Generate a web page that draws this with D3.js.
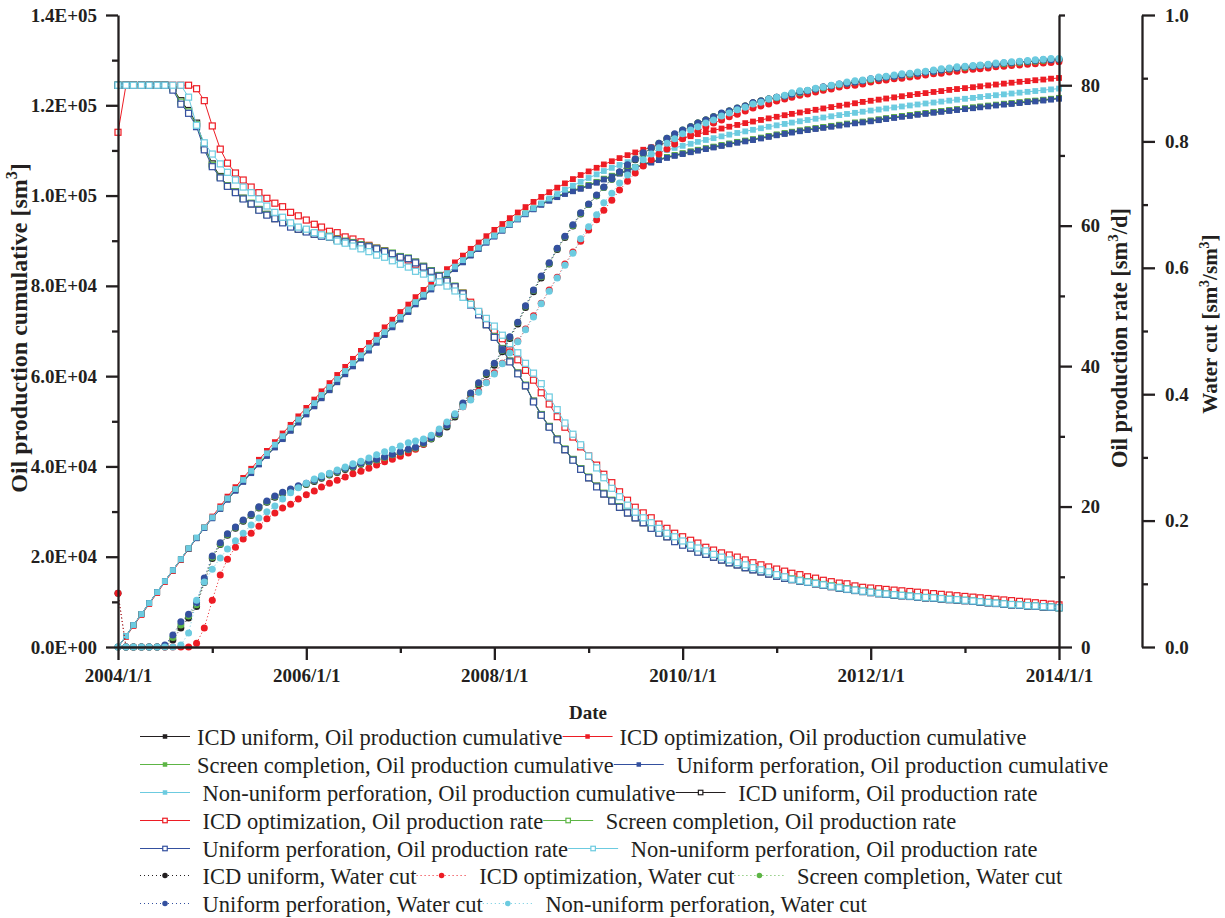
<!DOCTYPE html>
<html>
<head>
<meta charset="utf-8">
<script src="https://cdn.jsdelivr.net/npm/d3@7"></script>
<style>
  body { margin: 0; background: #fff; }
  text { font-family: "Liberation Serif", "Times New Roman", serif; }
</style>
</head>
<body>
<svg id="chart" width="1225" height="918"></svg>
<script>
// ---- data: monthly values, 2004/1/1 .. 2014/1/1 (121 points) ----
const startDate = new Date(2004, 0, 1), endDate = new Date(2014, 0, 1);

// cumulative oil, in thousand sm3
const cumIcdUniform = [0,2.43,4.86,7.30,9.73,12.16,14.59,17.02,19.45,21.83,24.15,26.43,28.60,30.69,32.73,34.73,36.70,38.65,40.57,42.46,
 44.33,46.18,48.02,49.84,51.65,53.45,55.24,57.02,58.79,60.56,62.31,64.06,65.80,67.53,69.25,70.96,72.66,74.35,76.03,77.69,
 79.33,80.89,82.33,83.83,85.33,86.83,88.27,89.67,91.02,92.32,93.62,94.82,95.97,97.06,98.06,98.96,99.76,100.46,101.06,101.61,
 102.26,102.96,103.66,104.31,104.96,105.61,106.26,106.86,107.41,107.96,108.46,108.91,109.31,109.71,110.06,110.41,110.76,111.11,111.46,111.81,
 112.11,112.41,112.76,113.11,113.46,113.76,114.06,114.36,114.61,114.86,115.11,115.36,115.61,115.86,116.11,116.31,116.56,116.81,117.06,117.31,
 117.56,117.76,118.01,118.21,118.46,118.66,118.86,119.06,119.26,119.46,119.66,119.86,120.06,120.26,120.41,120.61,120.81,120.96,121.16,121.36,121.56];
const cumIcdOpt = [0,2.23,4.66,7.09,9.53,11.96,14.39,16.82,19.25,21.69,24.12,26.54,28.90,31.16,33.31,35.41,37.46,39.48,41.47,43.44,
 45.38,47.30,49.21,51.09,52.96,54.81,56.64,58.46,60.26,62.05,63.83,65.59,67.35,69.09,70.81,72.5,74.2,75.85,77.5,79.1,
 80.7,82.2,83.7,85.2,86.7,88.2,89.6,91.0,92.4,93.7,95.0,96.25,97.45,98.6,99.7,100.75,101.75,102.7,103.65,104.55,
 105.35,106.15,106.9,107.6,108.3,108.95,109.55,110.15,110.7,111.25,111.75,112.25,112.7,113.15,113.6,114.05,114.45,114.85,115.25,115.65,
 116.05,116.4,116.75,117.1,117.45,117.8,118.1,118.4,118.7,119.0,119.3,119.6,119.9,120.15,120.45,120.75,121.0,121.25,121.5,121.75,
 122.0,122.25,122.5,122.7,122.95,123.15,123.4,123.6,123.8,124.0,124.2,124.4,124.6,124.8,125.0,125.2,125.35,125.55,125.7,125.9,126.05];
const cumScreen = [0,2.43,4.86,7.30,9.73,12.16,14.59,17.02,19.44,21.81,24.14,26.42,28.60,30.70,32.75,34.76,36.75,38.70,40.63,42.52,
 44.39,46.24,48.08,49.90,51.71,53.50,55.29,57.07,58.84,60.61,62.36,64.11,65.85,67.58,69.30,71.01,72.72,74.40,76.09,77.75,
 79.39,80.95,82.40,83.90,85.40,86.90,88.35,89.75,91.10,92.40,93.70,94.90,96.05,97.15,98.15,99.05,99.85,100.55,101.15,101.70,
 102.35,103.05,103.75,104.40,105.05,105.70,106.35,106.95,107.50,108.05,108.55,109.00,109.40,109.80,110.15,110.50,110.85,111.20,111.55,111.90,
 112.20,112.50,112.85,113.20,113.55,113.85,114.15,114.45,114.70,114.95,115.20,115.45,115.70,115.95,116.20,116.40,116.65,116.90,117.15,117.40,
 117.65,117.85,118.10,118.30,118.55,118.75,118.95,119.15,119.35,119.55,119.75,119.95,120.15,120.35,120.50,120.70,120.90,121.05,121.25,121.45,121.65];
const cumUniPerf = [0,2.43,4.86,7.30,9.73,12.16,14.59,17.02,19.43,21.78,24.09,26.35,28.50,30.58,32.61,34.60,36.57,38.51,40.43,42.32,
 44.19,46.04,47.88,49.70,51.51,53.30,55.09,56.87,58.64,60.41,62.16,63.91,65.65,67.38,69.10,70.81,72.52,74.20,75.89,77.55,
 79.19,80.75,82.2,83.7,85.2,86.7,88.15,89.55,90.9,92.2,93.5,94.7,95.85,96.95,97.95,98.85,99.65,100.35,100.95,101.5,
 102.15,102.85,103.55,104.2,104.85,105.5,106.15,106.75,107.3,107.85,108.35,108.8,109.2,109.6,109.95,110.3,110.65,111.0,111.35,111.7,
 112.0,112.3,112.65,113.0,113.35,113.65,113.95,114.25,114.5,114.75,115.0,115.25,115.5,115.75,116.0,116.2,116.45,116.7,116.95,117.2,
 117.45,117.65,117.9,118.1,118.35,118.55,118.75,118.95,119.15,119.35,119.55,119.75,119.95,120.15,120.3,120.5,120.7,120.85,121.05,121.25,121.45];
const cumNonUni = [0,2.43,4.86,7.30,9.73,12.16,14.59,17.02,19.46,21.89,24.27,26.53,28.71,30.84,32.93,34.99,37.01,39.0,40.97,42.91,
 44.82,46.70,48.56,50.40,52.22,54.03,55.82,57.60,59.38,61.14,62.89,64.62,66.35,68.06,69.75,71.44,73.11,74.77,76.41,78.04,
 79.65,81.25,82.83,84.27,85.70,87.10,88.47,89.81,91.13,92.41,93.66,94.88,96.06,97.19,98.29,99.34,100.34,101.29,102.19,103.04,
 103.9,104.7,105.44,106.14,106.79,107.41,108.0,108.56,109.09,109.6,110.09,110.56,111.02,111.47,111.9,112.32,112.72,113.12,113.5,113.87,
 114.22,114.57,114.91,115.24,115.56,115.87,116.17,116.46,116.74,117.02,117.29,117.56,117.82,118.08,118.33,118.58,118.83,119.06,119.29,119.52,
 119.74,119.96,120.18,120.40,120.61,120.82,121.03,121.24,121.44,121.64,121.84,122.04,122.23,122.42,122.61,122.80,122.98,123.16,123.34,123.52,123.7];

// oil production rate, sm3/d
const rateIcdUniform = [80,80,80,80,80,80,80,79.6,77.8,76.4,74.6,71.4,68.8,67.0,65.7,64.8,63.9,63.1,62.3,61.6,
 61.0,60.5,59.9,59.5,59.2,58.8,58.6,58.4,58.0,57.8,57.5,57.3,57.0,56.7,56.4,56.0,55.6,55.3,54.8,54.2,
 53.6,52.9,52.2,51.3,50.3,48.8,47.4,45.9,44.2,42.5,40.7,39.0,37.2,35.0,33.1,31.4,29.6,28.1,26.7,25.4,
 24.1,22.9,21.8,20.8,19.9,19.1,18.4,17.7,17.0,16.3,15.7,15.1,14.6,14.1,13.6,13.2,12.8,12.4,12.0,11.7,
 11.3,11.0,10.7,10.4,10.1,9.8,9.6,9.4,9.2,9.0,8.8,8.6,8.4,8.2,8.05,7.9,7.75,7.6,7.5,7.4,
 7.3,7.2,7.1,7.0,6.95,6.85,6.75,6.7,6.6,6.5,6.4,6.3,6.2,6.1,6.0,5.95,5.85,5.8,5.7,5.65,5.6];
const rateIcdOpt = [73.3,80,80,80,80,80,80,80,80,80,79.5,77.8,74.2,70.9,68.9,67.5,66.5,65.5,64.7,63.9,
 63.2,62.7,61.9,61.4,60.8,60.2,59.8,59.2,59.0,58.4,58.1,57.7,57.2,56.8,56.4,56.0,55.5,55.1,54.5,54.1,
 53.4,52.8,52.0,51.1,50.4,49.1,47.7,46.6,45.1,43.9,42.3,40.9,39.4,38.0,36.2,34.6,32.8,31.3,29.9,28.5,
 27.2,25.9,24.6,23.4,22.1,20.9,19.9,19.1,18.4,17.5,16.9,16.2,15.7,15.2,14.8,14.2,13.8,13.4,13.1,12.8,
 12.4,12.0,11.7,11.4,11.1,10.8,10.5,10.3,10.0,9.8,9.5,9.3,9.1,9.0,8.7,8.5,8.4,8.3,8.2,8.1,
 8.0,7.9,7.8,7.7,7.6,7.5,7.4,7.3,7.2,7.1,7.0,6.9,6.8,6.7,6.6,6.5,6.4,6.3,6.2,6.1,6.0];
const rateScreen = [80,80,80,80,80,80,80,79.5,77.6,76.2,74.4,71.1,68.6,66.9,65.7,64.8,63.9,63.2,62.3,61.6,
 61.1,60.5,59.9,59.6,59.2,58.9,58.6,58.5,58.1,57.8,57.6,57.3,57.1,56.8,56.4,56.1,55.6,55.4,54.8,54.2,
 53.6,52.9,52.2,51.4,50.4,48.8,47.4,46.0,44.2,42.5,40.7,39.0,37.3,35.0,33.1,31.4,29.6,28.2,26.7,25.4,
 24.2,22.9,21.9,20.9,20.0,19.2,18.5,17.8,17.0,16.3,15.8,15.1,14.6,14.2,13.6,13.3,12.9,12.5,12.1,11.8,
 11.4,11.1,10.8,10.5,10.2,9.9,9.7,9.5,9.3,9.1,8.9,8.7,8.5,8.3,8.1,7.95,7.8,7.65,7.55,7.45,
 7.35,7.25,7.15,7.05,7.0,6.9,6.8,6.75,6.65,6.55,6.45,6.35,6.25,6.15,6.05,6.0,5.9,5.85,5.75,5.7,5.6];
const rateUniPerf = [80,80,80,80,80,80,80,79.3,77.3,76.0,74.1,70.8,68.4,66.8,65.6,64.7,63.8,63.1,62.2,61.5,
 61.0,60.4,59.8,59.5,59.1,58.8,58.5,58.4,58.0,57.7,57.5,57.2,57.0,56.7,56.3,56.0,55.5,55.3,54.7,54.1,
 53.5,52.8,52.1,51.3,50.3,48.7,47.3,45.9,44.1,42.4,40.6,38.9,37.2,34.9,33.0,31.3,29.5,28.1,26.6,25.3,
 24.1,22.8,21.8,20.8,19.9,19.1,18.4,17.7,16.9,16.2,15.7,15.0,14.5,14.1,13.5,13.2,12.8,12.4,12.0,11.7,
 11.3,11.0,10.7,10.4,10.1,9.8,9.6,9.4,9.2,9.0,8.8,8.6,8.4,8.2,8.05,7.9,7.75,7.6,7.5,7.4,
 7.3,7.2,7.1,7.0,6.95,6.85,6.75,6.7,6.6,6.5,6.4,6.3,6.2,6.1,6.0,5.95,5.85,5.8,5.7,5.65,5.6];
const rateNonUni = [80,80,80,80,80,80,80,80,80,78.3,74.3,71.8,70.2,68.8,67.6,66.5,65.5,64.7,63.8,62.8,
 61.9,61.2,60.4,59.8,59.5,59.0,58.7,58.4,57.8,57.5,57.1,56.7,56.3,55.8,55.5,55.0,54.5,54.1,53.5,53.1,
 52.5,52.0,51.4,50.7,49.8,48.8,47.8,46.8,45.7,44.4,43.2,41.9,40.4,39.0,37.5,35.6,33.8,31.9,30.3,28.8,
 27.2,25.5,24.1,22.6,21.4,20.2,19.2,18.4,17.7,16.9,16.2,15.7,15.1,14.5,14.1,13.7,13.2,12.8,12.4,12.0,
 11.7,11.3,11.0,10.7,10.3,10.0,9.65,9.45,9.25,9.05,8.85,8.65,8.45,8.25,8.1,7.95,7.8,7.65,7.55,7.45,
 7.35,7.25,7.15,7.05,7.0,6.9,6.8,6.75,6.65,6.55,6.45,6.35,6.25,6.15,6.05,6.0,5.9,5.85,5.75,5.7,5.6];

// water cut, sm3/sm3
const wcIcdUniform = [0.085,0,0,0,0,0,0,0.011,0.030,0.046,0.064,0.102,0.140,0.162,0.177,0.188,0.199,0.208,0.220,0.229,
 0.237,0.243,0.248,0.253,0.257,0.262,0.267,0.272,0.276,0.281,0.284,0.289,0.292,0.295,0.299,0.303,0.307,0.311,0.314,0.321,
 0.329,0.337,0.348,0.364,0.383,0.399,0.415,0.431,0.446,0.467,0.488,0.511,0.537,0.562,0.584,0.606,0.629,0.648,0.666,0.685,
 0.700,0.714,0.727,0.740,0.751,0.762,0.771,0.781,0.789,0.796,0.804,0.811,0.817,0.823,0.829,0.834,0.839,0.844,0.848,0.852,
 0.856,0.861,0.864,0.867,0.870,0.872,0.875,0.878,0.880,0.883,0.886,0.888,0.890,0.892,0.894,0.896,0.898,0.900,0.902,0.903,
 0.905,0.906,0.908,0.909,0.911,0.913,0.914,0.916,0.917,0.918,0.920,0.921,0.922,0.923,0.924,0.925,0.926,0.927,0.928,0.929,0.929];
const wcIcdOpt = [0.085,0,0,0,0,0,0,0,0,0,0.006,0.030,0.074,0.114,0.139,0.158,0.171,0.180,0.191,0.203,
 0.212,0.220,0.226,0.234,0.241,0.247,0.253,0.259,0.264,0.269,0.274,0.278,0.283,0.288,0.293,0.297,0.302,0.307,0.313,0.321,
 0.331,0.342,0.354,0.367,0.380,0.392,0.405,0.419,0.434,0.449,0.467,0.484,0.503,0.524,0.544,0.565,0.585,0.606,0.625,0.642,
 0.660,0.676,0.691,0.707,0.723,0.737,0.750,0.761,0.771,0.780,0.788,0.796,0.804,0.810,0.816,0.823,0.829,0.834,0.839,0.843,
 0.848,0.853,0.856,0.859,0.864,0.867,0.870,0.873,0.875,0.878,0.881,0.883,0.886,0.888,0.889,0.891,0.894,0.896,0.897,0.899,
 0.900,0.902,0.903,0.905,0.907,0.908,0.910,0.911,0.913,0.914,0.915,0.916,0.918,0.919,0.920,0.921,0.922,0.923,0.924,0.925,0.926];
const wcScreen = [0,0,0,0,0,0,0.002,0.015,0.035,0.049,0.067,0.106,0.142,0.163,0.178,0.189,0.200,0.209,0.221,0.230,
 0.238,0.244,0.249,0.254,0.258,0.263,0.268,0.273,0.277,0.282,0.285,0.290,0.293,0.296,0.300,0.304,0.308,0.312,0.315,0.322,
 0.330,0.338,0.350,0.366,0.385,0.401,0.417,0.433,0.448,0.469,0.490,0.513,0.539,0.564,0.586,0.607,0.630,0.649,0.667,0.686,
 0.700,0.714,0.727,0.740,0.751,0.762,0.772,0.781,0.789,0.797,0.805,0.811,0.818,0.823,0.829,0.834,0.839,0.844,0.848,0.853,
 0.856,0.860,0.864,0.867,0.869,0.872,0.875,0.877,0.880,0.883,0.885,0.888,0.890,0.892,0.894,0.896,0.898,0.900,0.902,0.903,
 0.905,0.906,0.908,0.910,0.911,0.913,0.914,0.916,0.917,0.919,0.920,0.921,0.922,0.923,0.924,0.925,0.926,0.927,0.928,0.929,0.930];
const wcUniPerf = [0,0,0,0,0,0,0.003,0.019,0.040,0.052,0.070,0.109,0.144,0.165,0.179,0.190,0.201,0.210,0.222,0.231,
 0.239,0.245,0.250,0.255,0.259,0.264,0.269,0.274,0.278,0.283,0.286,0.291,0.294,0.297,0.301,0.305,0.309,0.313,0.316,0.323,
 0.331,0.339,0.351,0.367,0.386,0.402,0.418,0.434,0.449,0.470,0.491,0.514,0.540,0.565,0.587,0.608,0.631,0.650,0.668,0.687,
 0.701,0.715,0.728,0.741,0.752,0.763,0.772,0.782,0.790,0.797,0.805,0.812,0.818,0.823,0.829,0.834,0.839,0.845,0.848,0.853,
 0.856,0.861,0.864,0.867,0.870,0.872,0.875,0.878,0.880,0.883,0.886,0.888,0.891,0.892,0.894,0.896,0.899,0.900,0.902,0.903,
 0.905,0.907,0.908,0.910,0.911,0.913,0.915,0.916,0.918,0.919,0.920,0.921,0.922,0.924,0.925,0.926,0.927,0.928,0.929,0.929,0.930];
const wcNonUni = [0,0,0,0,0,0,0,0,0.003,0.022,0.074,0.103,0.123,0.141,0.155,0.168,0.180,0.193,0.204,0.214,
 0.223,0.234,0.244,0.252,0.259,0.266,0.271,0.275,0.280,0.285,0.290,0.294,0.299,0.304,0.309,0.313,0.318,0.323,0.326,0.329,
 0.335,0.345,0.356,0.369,0.380,0.391,0.403,0.418,0.432,0.448,0.465,0.483,0.502,0.522,0.543,0.563,0.584,0.604,0.623,0.646,
 0.665,0.684,0.703,0.718,0.734,0.747,0.759,0.771,0.780,0.790,0.797,0.804,0.812,0.818,0.823,0.829,0.834,0.840,0.845,0.850,
 0.854,0.859,0.862,0.867,0.870,0.873,0.877,0.880,0.881,0.884,0.886,0.889,0.891,0.894,0.896,0.897,0.899,0.902,0.903,0.905,
 0.907,0.908,0.910,0.911,0.913,0.915,0.916,0.918,0.919,0.920,0.921,0.922,0.924,0.925,0.926,0.927,0.928,0.929,0.930,0.931,0.931];

// axis ticks
const cumTicks = [0, 20000, 40000, 60000, 80000, 100000, 120000, 140000];
const cumTickLabels = ["0.0E+00","2.0E+04","4.0E+04","6.0E+04","8.0E+04","1.0E+05","1.2E+05","1.4E+05"];
const rateTicks = [0, 20, 40, 60, 80];
const rateTickLabels = ["0","20","40","60","80"];
const wcTicks = [0, 0.2, 0.4, 0.6, 0.8, 1.0];
const wcTickLabels = ["0.0","0.2","0.4","0.6","0.8","1.0"];
const dateTickYears = [2004, 2006, 2008, 2010, 2012, 2014];
const dateTickLabels = ["2004/1/1","2006/1/1","2008/1/1","2010/1/1","2012/1/1","2014/1/1"];

// ---- drawing ----
const FONT = '"Liberation Serif", "Times New Roman", serif';
const INK = "#231f20";
const COL = { black: "#231f20", red: "#ed1c24", green: "#5db545", blue: "#34509f", cyan: "#6ccbe0" };

const svg = d3.select("#chart");
svg.append("rect").attr("width", 1225).attr("height", 918).attr("fill", "#fff");

const xL = 118, xR = 1059, xR2 = 1142, yT = 15, yB = 647;
const months = d3.timeMonth.range(startDate, d3.timeDay.offset(endDate, 1));

const x = d3.scaleTime().domain([startDate, endDate]).range([xL, xR]);
const yCum = d3.scaleLinear().domain([0, 140000]).range([yB, yT]);
const yRate = d3.scaleLinear().domain([0, 90]).range([yB, yT]);
const yWc = d3.scaleLinear().domain([0, 1]).range([yB, yT]);

const series = [
  { name: "ICD uniform, Oil production cumulative", color: COL.black, kind: "cum", vals: cumIcdUniform, pad: false },
  { name: "ICD optimization, Oil production cumulative", color: COL.red, kind: "cum", vals: cumIcdOpt, pad: false },
  { name: "Screen completion, Oil production cumulative", color: COL.green, kind: "cum", vals: cumScreen, pad: false },
  { name: "Uniform perforation, Oil production cumulative", color: COL.blue, kind: "cum", vals: cumUniPerf, pad: true },
  { name: "Non-uniform perforation, Oil production cumulative", color: COL.cyan, kind: "cum", vals: cumNonUni, pad: true },
  { name: "ICD uniform, Oil production rate", color: COL.black, kind: "rate", vals: rateIcdUniform, pad: true },
  { name: "ICD optimization, Oil production rate", color: COL.red, kind: "rate", vals: rateIcdOpt, pad: true },
  { name: "Screen completion, Oil production rate", color: COL.green, kind: "rate", vals: rateScreen, pad: true },
  { name: "Uniform perforation, Oil production rate", color: COL.blue, kind: "rate", vals: rateUniPerf, pad: true },
  { name: "Non-uniform perforation, Oil production rate", color: COL.cyan, kind: "rate", vals: rateNonUni, pad: true },
  { name: "ICD uniform, Water cut", color: COL.black, kind: "wc", vals: wcIcdUniform, pad: true },
  { name: "ICD optimization, Water cut", color: COL.red, kind: "wc", vals: wcIcdOpt, pad: true },
  { name: "Screen completion, Water cut", color: COL.green, kind: "wc", vals: wcScreen, pad: true },
  { name: "Uniform perforation, Water cut", color: COL.blue, kind: "wc", vals: wcUniPerf, pad: true },
  { name: "Non-uniform perforation, Water cut", color: COL.cyan, kind: "wc", vals: wcNonUni, pad: true }
];

function yOf(s, d) {
  if (s.kind === "cum") return yCum(d * 1000);
  if (s.kind === "rate") return yRate(d);
  return yWc(d);
}

// marker drawing (used for plot and legend)
function marker(g, s, cx, cy, size) {
  if (s.kind === "wc") {
    g.append("circle").attr("cx", cx).attr("cy", cy).attr("r", size / 2).attr("fill", s.color);
  } else if (s.kind === "cum") {
    g.append("rect").attr("x", cx - size / 2).attr("y", cy - size / 2)
      .attr("width", size).attr("height", size).attr("fill", s.color);
  } else {
    g.append("rect").attr("x", cx - size / 2).attr("y", cy - size / 2)
      .attr("width", size).attr("height", size)
      .attr("fill", "#fff").attr("stroke", s.color).attr("stroke-width", 1.2);
  }
}

const plot = svg.append("g");
series.forEach(function (s) {
  const pts = s.vals.map(function (d, i) { return [x(months[i]), yOf(s, d)]; });
  const g = plot.append("g");
  g.append("path")
    .attr("d", d3.line()(pts))
    .attr("fill", "none")
    .attr("stroke", s.color)
    .attr("stroke-width", 1)
    .attr("stroke-dasharray", s.kind === "wc" ? "1,2.5" : null);
  const size = s.kind === "wc" ? 7 : (s.kind === "cum" ? 5.8 : 6);
  pts.forEach(function (p) { marker(g, s, p[0], p[1], size); });
});

// ---- axes ----
function styleAxis(g) {
  g.selectAll("path, line").attr("stroke", INK).attr("stroke-width", 2.3);
  g.selectAll("text").attr("font-family", FONT).attr("font-size", 19)
    .attr("font-weight", "bold").attr("fill", INK);
}

function minorAxis(axisFn, scale, vals, pos, horizontal) {
  const g = svg.append("g")
    .attr("transform", horizontal ? "translate(0," + pos + ")" : "translate(" + pos + ",0)")
    .call(axisFn(scale).tickValues(vals).tickSize(6).tickSizeOuter(0).tickFormat(""));
  g.select(".domain").remove();
  styleAxis(g);
}

// left: cumulative
svg.append("g").attr("transform", "translate(" + xL + ",0)")
  .call(d3.axisLeft(yCum).tickValues(cumTicks).tickSize(12).tickSizeOuter(0).tickPadding(9)
    .tickFormat(function (d, i) { return cumTickLabels[i]; }))
  .call(styleAxis);
minorAxis(d3.axisLeft, yCum, [10000, 30000, 50000, 70000, 90000, 110000, 130000], xL, false);

// middle: rate
svg.append("g").attr("transform", "translate(" + xR + ",0)")
  .call(d3.axisRight(yRate).tickValues(rateTicks).tickSize(13).tickSizeOuter(0).tickPadding(9)
    .tickFormat(function (d, i) { return rateTickLabels[i]; }))
  .call(styleAxis);
minorAxis(d3.axisRight, yRate, [10, 30, 50, 70, 90], xR, false);

// right: water cut
svg.append("g").attr("transform", "translate(" + xR2 + ",0)")
  .call(d3.axisRight(yWc).tickValues(wcTicks).tickSize(13).tickSizeOuter(0).tickPadding(10)
    .tickFormat(function (d, i) { return wcTickLabels[i]; }))
  .call(styleAxis);
minorAxis(d3.axisRight, yWc, [0.1, 0.3, 0.5, 0.7, 0.9], xR2, false);

// bottom: date
const dateMajor = dateTickYears.map(function (y) { return new Date(y, 0, 1); });
svg.append("g").attr("transform", "translate(0," + yB + ")")
  .call(d3.axisBottom(x).tickValues(dateMajor).tickSize(13).tickSizeOuter(0).tickPadding(9)
    .tickFormat(function (d, i) { return dateTickLabels[i]; }))
  .call(styleAxis);
minorAxis(d3.axisBottom, x, [2005, 2007, 2009, 2011, 2013].map(function (y) { return new Date(y, 0, 1); }), yB, true);

// ---- axis titles ----
function axisTitle(tx, ty, size, parts) {
  const t = svg.append("text")
    .attr("transform", "translate(" + tx + "," + ty + ") rotate(-90)")
    .attr("text-anchor", "middle").attr("font-family", FONT)
    .attr("font-size", size).attr("font-weight", "bold").attr("fill", INK);
  const up = Math.round(size * 0.4);
  parts.forEach(function (p) {
    const sp = t.append("tspan").text(p.t);
    if (p.sup) sp.attr("font-size", Math.round(size * 0.65)).attr("dy", -up);
    if (p.after) sp.attr("dy", up);
  });
}
axisTitle(27, 328, 24, [{ t: "Oil production cumulative [sm" }, { t: "3", sup: true }, { t: "]", after: true }]);
axisTitle(1127, 338, 22.5, [{ t: "Oil production rate [sm" }, { t: "3", sup: true }, { t: "/d]", after: true }]);
axisTitle(1217, 324, 21, [{ t: "Water cut [sm" }, { t: "3", sup: true }, { t: "/sm", after: true }, { t: "3", sup: true }, { t: "]", after: true }]);

svg.append("text").attr("x", 588).attr("y", 719).attr("text-anchor", "middle")
  .attr("font-family", FONT).attr("font-size", 19).attr("font-weight", "bold").attr("fill", INK)
  .text("Date");

// ---- legend ----
const legendRows = [[0, 1], [2, 3], [4, 5], [6, 7], [8, 9], [10, 11, 12], [13, 14]];
const legendBase = [745, 773, 801, 829, 857, 884, 912];
const legend = svg.append("g");
legendRows.forEach(function (row, r) {
  let cursor = 140;
  const base = legendBase[r];
  row.forEach(function (idx) {
    const s = series[idx];
    const g = legend.append("g");
    const ly = base - 8.5;
    g.append("line").attr("x1", cursor).attr("x2", cursor + 50).attr("y1", ly).attr("y2", ly)
      .attr("stroke", s.color).attr("stroke-width", 1.1)
      .attr("stroke-dasharray", s.kind === "wc" ? "1,3" : null);
    marker(g, s, cursor + 25, ly, s.kind === "wc" ? 5.5 : 4.5);
    const tx = cursor + 57 + (s.pad ? 5.6 : 0);
    const t = g.append("text").attr("x", tx).attr("y", base)
      .attr("font-family", FONT).attr("font-size", 22.5).attr("fill", INK)
      .text(s.name);
    cursor = tx + t.node().getComputedTextLength();
  });
});
</script>
</body>
</html>
